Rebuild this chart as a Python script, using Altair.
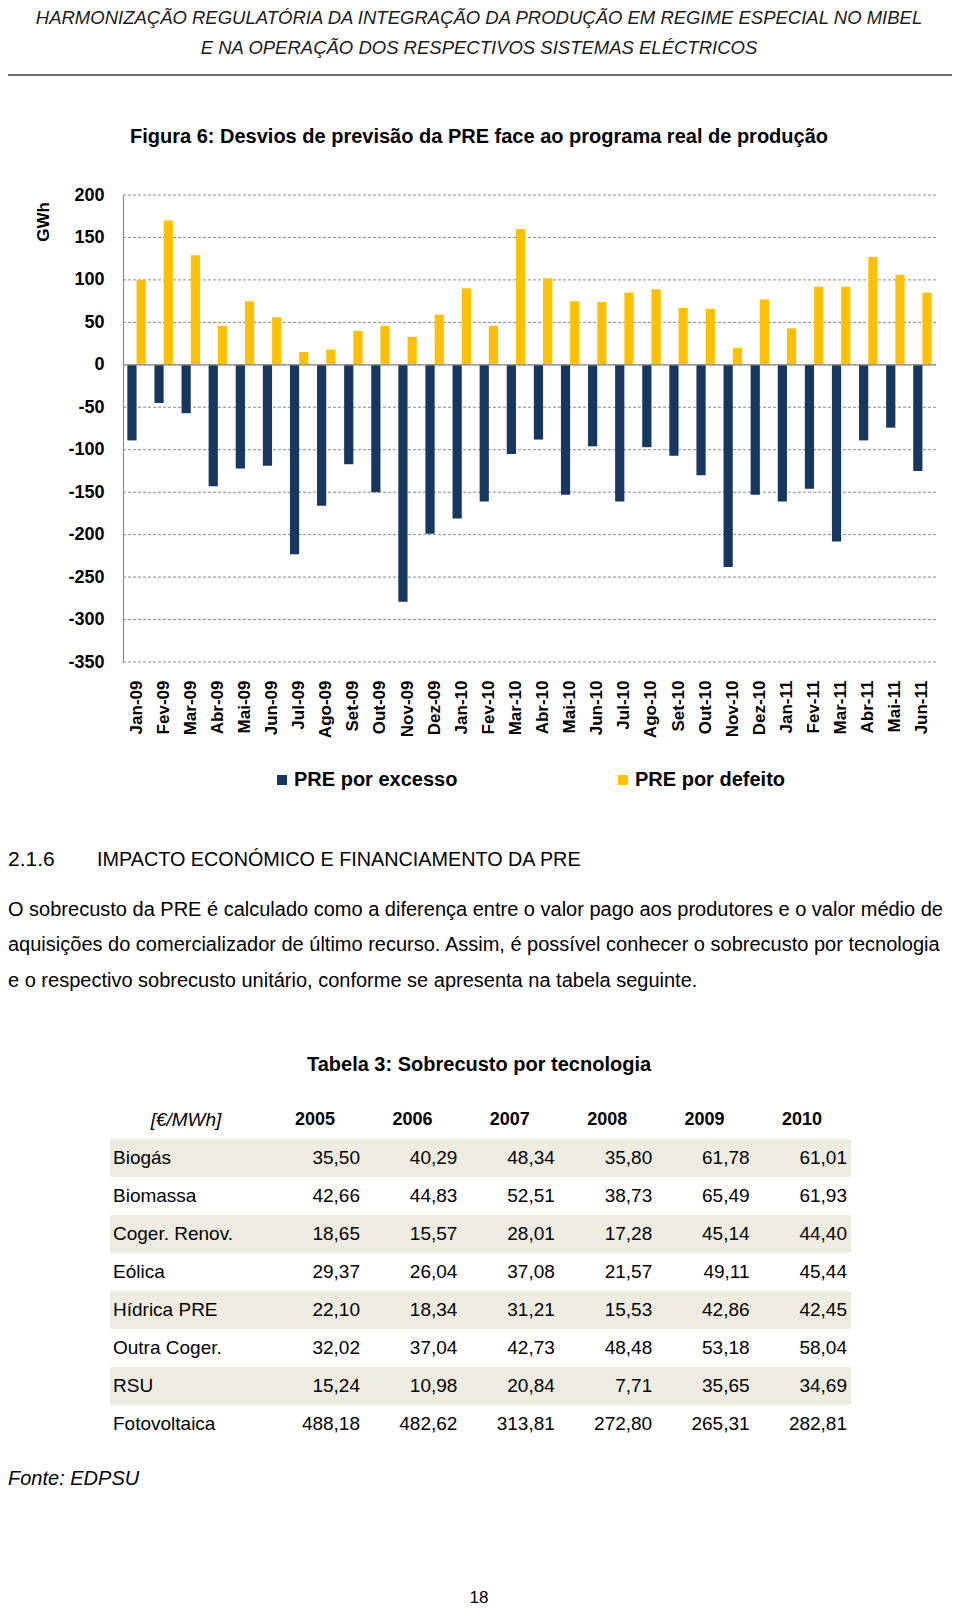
import altair as alt
import pandas as pd

FONT = "Liberation Sans"

# ---------------- data ----------------
months = ["Jan-09", "Fev-09", "Mar-09", "Abr-09", "Mai-09", "Jun-09", "Jul-09", "Ago-09",
          "Set-09", "Out-09", "Nov-09", "Dez-09", "Jan-10", "Fev-10", "Mar-10", "Abr-10",
          "Mai-10", "Jun-10", "Jul-10", "Ago-10", "Set-10", "Out-10", "Nov-10", "Dez-10",
          "Jan-11", "Fev-11", "Mar-11", "Abr-11", "Mai-11", "Jun-11"]
excesso = [-89, -45, -57, -143, -122, -119, -223, -166, -117, -150, -279, -199, -181, -161,
           -105, -88, -153, -96, -161, -97, -107, -130, -238, -153, -161, -146, -208, -89, -74, -125]
defeito = [100, 170, 129, 46, 75, 56, 15, 18, 40, 46, 33, 59, 90, 46,
           160, 102, 75, 74, 85, 89, 67, 66, 20, 77, 43, 92, 92, 127, 106, 85]
series_names = ["PRE por excesso", "PRE por defeito"]
series_colors = ["#17375E", "#FFC000"]
y_ticks = [-350, -300, -250, -200, -150, -100, -50, 0, 50, 100, 150, 200]

techs = ["Biogás", "Biomassa", "Coger. Renov.", "Eólica", "Hídrica PRE", "Outra Coger.", "RSU", "Fotovoltaica"]
years = ["2005", "2006", "2007", "2008", "2009", "2010"]
biogas = [35.50, 40.29, 48.34, 35.80, 61.78, 61.01]
biomassa = [42.66, 44.83, 52.51, 38.73, 65.49, 61.93]
coger_renov = [18.65, 15.57, 28.01, 17.28, 45.14, 44.40]
eolica = [29.37, 26.04, 37.08, 21.57, 49.11, 45.44]
hidrica = [22.10, 18.34, 31.21, 15.53, 42.86, 42.45]
outra_coger = [32.02, 37.04, 42.73, 48.48, 53.18, 58.04]
rsu = [15.24, 10.98, 20.84, 7.71, 35.65, 34.69]
fotovoltaica = [488.18, 482.62, 313.81, 272.80, 265.31, 282.81]
table_rows = [biogas, biomassa, coger_renov, eolica, hidrica, outra_coger, rsu, fotovoltaica]

header1 = "HARMONIZAÇÃO REGULATÓRIA DA INTEGRAÇÃO DA PRODUÇÃO EM REGIME ESPECIAL NO MIBEL"
header2 = "E NA OPERAÇÃO DOS RESPECTIVOS SISTEMAS ELÉCTRICOS"
fig_title = "Figura 6: Desvios de previsão da PRE face ao programa real de produção"
sec_num = "2.1.6"
sec_title = "IMPACTO ECONÓMICO E FINANCIAMENTO DA PRE"
para = ["O sobrecusto da PRE é calculado como a diferença entre o valor pago aos produtores e o valor médio de",
        "aquisições do comercializador de último recurso. Assim, é possível conhecer o sobrecusto por tecnologia",
        "e o respectivo sobrecusto unitário, conforme se apresenta na tabela seguinte."]
tab_title = "Tabela 3: Sobrecusto por tecnologia"
unit = "[€/MWh]"
fonte = "Fonte: EDPSU"
page_no = "18"

# ---------------- layout (plot area 813 x 467 at page (123,195)) ----------------
W, H = 813, 467
COL_RANGE = [237, 724]
ROW_CENTERS = [963, 1229]
ROW_BAND = [944, 1248]
YSCALE = alt.Scale(domain=[-350, 200], nice=False, zero=False)


def txt(s, x, y, size, weight="normal", style="normal", align="center", angle=0, color="black"):
    return alt.Chart(pd.DataFrame({"t": [s]})).mark_text(
        font=FONT, fontSize=size, fontWeight=weight, fontStyle=style, align=align,
        baseline="middle", angle=angle, color=color
    ).encode(x=alt.value(x), y=alt.value(y), text="t:N")


df = pd.DataFrame({
    "mes": months * 2,
    "serie": [series_names[0]] * len(months) + [series_names[1]] * len(months),
    "valor": excesso + defeito,
})

grid = alt.Chart(pd.DataFrame({"v": y_ticks})).mark_rule(
    color="#8c8c8c", strokeWidth=1, strokeDash=[3, 2]).encode(
    y=alt.Y("v:Q", scale=YSCALE, axis=None))

bars = alt.Chart(df).mark_bar().encode(
    x=alt.X("mes:N", sort=months,
            scale=alt.Scale(paddingInner=0.32, paddingOuter=0.16),
            axis=alt.Axis(title=None, labelAngle=270, labelAlign="right", labelBaseline="middle",
                          labelPadding=18, ticks=False, domain=False, grid=False,
                          labelFont=FONT, labelFontSize=17, labelFontWeight="bold",
                          labelColor="black", labelOverlap=False, labelLimit=200)),
    xOffset=alt.XOffset("serie:N", sort=series_names,
                        scale=alt.Scale(paddingInner=0, paddingOuter=0)),
    y=alt.Y("valor:Q", scale=YSCALE,
            axis=alt.Axis(values=y_ticks, title=None, ticks=False, tickSize=0, labelPadding=19,
                          domainColor="#8c8c8c", domainWidth=1.2, grid=False,
                          labelFont=FONT, labelFontSize=18,
                          labelFontWeight="bold", labelColor="black", labelOverlap=False,
                          labelExpr="'' + datum.value")),
    color=alt.Color("serie:N", sort=series_names,
                    scale=alt.Scale(domain=series_names, range=series_colors),
                    legend=alt.Legend(title=None, orient="none", legendX=149, legendY=575,
                                      direction="horizontal", symbolType="square",
                                      symbolSize=100, symbolStrokeWidth=0, labelFont=FONT,
                                      labelFontSize=20, labelFontWeight="bold",
                                      labelColor="black", columnPadding=155, labelOffset=2,
                                      padding=0, labelLimit=400)),
)

zero = alt.Chart(pd.DataFrame({"v": [0]})).mark_rule(color="#8c8c8c", strokeWidth=1.2).encode(
    y=alt.Y("v:Q", scale=YSCALE, axis=None)
)

# ---------------- table ----------------
rows = []
for t, vals in zip(techs, table_rows):
    for yr, v in zip(years, vals):
        rows.append({"tec": t, "ano": yr, "txt": f"{v:.2f}".replace(".", ",")})
tdf = pd.DataFrame(rows)

bdf = pd.DataFrame({"tec": techs, "faixa": [i % 2 == 0 for i in range(len(techs))]})
bands = alt.Chart(bdf).transform_filter("datum.faixa").mark_rect(color="#EEECE1").encode(
    x=alt.value(-13), x2=alt.value(728),
    y=alt.Y("tec:N", sort=techs,
            scale=alt.Scale(type="band", domain=techs, range=ROW_BAND, paddingInner=0, paddingOuter=0),
            axis=None),
)

tvals = alt.Chart(tdf).mark_text(align="right", baseline="middle", font=FONT, fontSize=19,
                                 color="black").encode(
    x=alt.X("ano:O", sort=years, scale=alt.Scale(type="point", domain=years, range=COL_RANGE, padding=0),
            axis=None),
    y=alt.Y("tec:N", sort=techs, scale=alt.Scale(type="point", domain=techs, range=ROW_CENTERS, padding=0),
            axis=None),
    text="txt:N",
)

tlabels = alt.Chart(pd.DataFrame({"tec": techs})).mark_text(
    align="left", baseline="middle", font=FONT, fontSize=19, color="black").encode(
    x=alt.value(-10),
    y=alt.Y("tec:N", sort=techs, scale=alt.Scale(type="point", domain=techs, range=ROW_CENTERS, padding=0),
            axis=None),
    text="tec:N",
)

thead = alt.Chart(pd.DataFrame({"ano": years})).mark_text(
    align="center", baseline="middle", dx=-45, font=FONT, fontSize=18, fontWeight="bold",
    color="black").encode(
    x=alt.X("ano:O", sort=years, scale=alt.Scale(type="point", domain=years, range=COL_RANGE, padding=0),
            axis=None),
    y=alt.value(925),
    text="ano:N",
)

# ---------------- page texts ----------------
rule_top = alt.Chart(pd.DataFrame({"a": [0]})).mark_rule(color="#707070", strokeWidth=2).encode(
    x=alt.value(-115), x2=alt.value(829), y=alt.value(-120))

texts = [
    txt(header1, 356, -177, 18.5, style="italic", color="#1a1a1a"),
    txt(header2, 356, -147, 18.5, style="italic", color="#1a1a1a"),
    txt(fig_title, 356, -58, 20, weight="bold"),
    txt("GWh", -79.5, 27, 17, weight="bold", angle=270),
    txt(sec_num, -115, 665, 21, align="left"),
    txt(sec_title, -26, 665, 19.8, align="left"),
    txt(para[0], -115, 715, 20, align="left"),
    txt(para[1], -115, 750, 20, align="left"),
    txt(para[2], -115, 786, 20, align="left"),
    txt(tab_title, 356, 870, 20, weight="bold"),
    txt(unit, 63, 925, 19, style="italic"),
    txt(fonte, -115, 1284, 20, style="italic", align="left"),
    txt(page_no, 356, 1403, 17),
]

chart = alt.layer(
    bands, tvals, tlabels, thead, grid, bars, zero, rule_top, *texts
).resolve_scale(
    x="independent", y="independent"
).properties(
    width=W, height=H,
    autosize=alt.AutoSizeParams(type="none"),
    padding={"left": 115, "top": 187, "right": 16, "bottom": 946},
).configure(
    background="white",
    view=alt.ViewConfig(stroke="transparent", strokeWidth=0),
)

chart.save("out.html", embed_options={"renderer": "svg", "actions": False})
